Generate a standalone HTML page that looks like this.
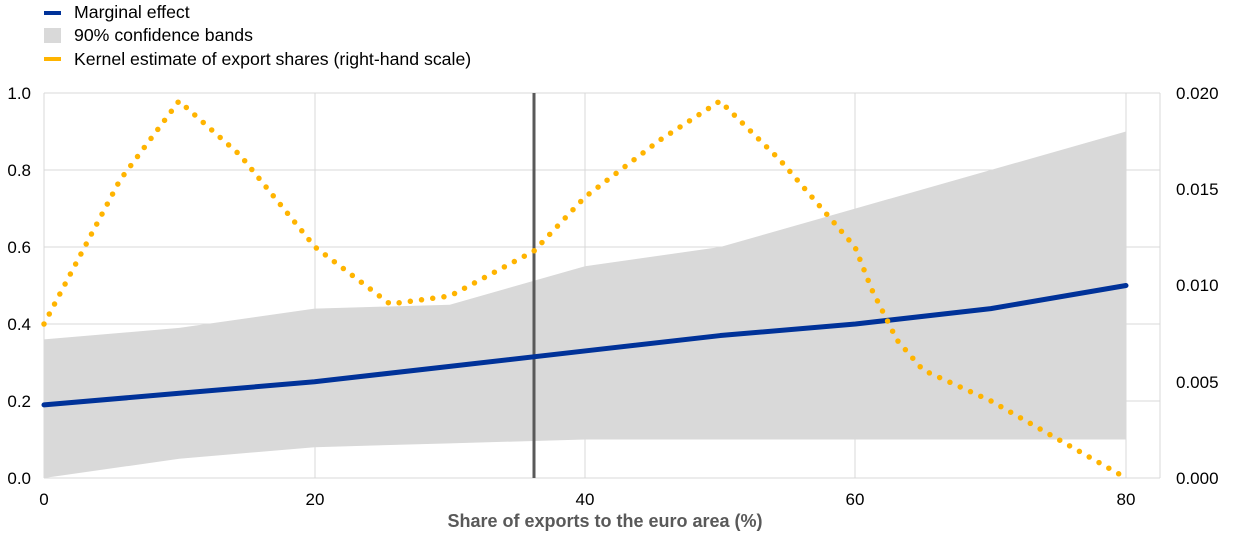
<!DOCTYPE html>
<html><head><meta charset="utf-8"><style>
html,body{margin:0;padding:0;background:#fff;}
svg{display:block;font-family:"Liberation Sans",Arial,sans-serif;}
</style></head><body>
<svg width="1240" height="535" viewBox="0 0 1240 535">
<rect x="44" y="11" width="17" height="4" fill="#003299"/>
<text x="74" y="18" font-size="17.7" fill="#000">Marginal effect</text>
<rect x="44" y="28" width="17" height="15" fill="#d9d9d9"/>
<text x="74" y="41" font-size="17.7" fill="#000">90% confidence bands</text>
<rect x="44" y="57" width="17" height="4" fill="#ffb400"/>
<text x="74" y="65" font-size="17.7" fill="#000">Kernel estimate of export shares (right-hand scale)</text>
<g stroke="#d9d9d9" stroke-width="1">
<line x1="44" y1="93" x2="1160" y2="93"/>
<line x1="44" y1="170" x2="1160" y2="170"/>
<line x1="44" y1="247" x2="1160" y2="247"/>
<line x1="44" y1="324" x2="1160" y2="324"/>
<line x1="44" y1="401" x2="1160" y2="401"/>
<line x1="44" y1="478" x2="1160" y2="478"/>
<line x1="44" y1="93" x2="44" y2="478"/>
<line x1="315" y1="93" x2="315" y2="478"/>
<line x1="585" y1="93" x2="585" y2="478"/>
<line x1="855" y1="93" x2="855" y2="478"/>
<line x1="1126" y1="93" x2="1126" y2="478"/>
<line x1="1160" y1="93" x2="1160" y2="478"/>
</g>
<polygon fill="#d9d9d9" points="44,339.4 179.3,327.9 314.5,308.6 449.8,304.75 585,266.25 720.3,247 855.5,208.5 990.8,170 1126,131.5 1126,439.5 990.8,439.5 855.5,439.5 720.3,439.5 585,439.5 449.8,443.35 314.5,447.2 179.3,458.75 44,478"/>
<line x1="534" y1="93" x2="534" y2="478" stroke="#595959" stroke-width="3"/>
<polyline fill="none" stroke="#003299" stroke-width="5" stroke-linecap="round" stroke-linejoin="round" points="44,404.85 179.3,393.3 314.5,381.75 449.8,366.35 585,350.95 720.3,335.55 855.5,324 990.8,308.6 1126,285.5"/>
<polyline fill="none" stroke="#ffb400" stroke-width="5.5" stroke-linecap="round" stroke-dasharray="0 11.3" points="44,324 120,180 179,101 240,155 315,247 390,304 450,296 534,251 585,197 660,140 720,101 780,160 855,247 872,290 897,340 923,370 991,401 1126,478"/>
<g font-size="17" fill="#000" text-anchor="end">
<text x="31" y="99">1.0</text>
<text x="31" y="176">0.8</text>
<text x="31" y="253">0.6</text>
<text x="31" y="330">0.4</text>
<text x="31" y="407">0.2</text>
<text x="31" y="484">0.0</text>
</g>
<g font-size="17" fill="#000" text-anchor="start">
<text x="1176" y="99">0.020</text>
<text x="1176" y="195">0.015</text>
<text x="1176" y="291">0.010</text>
<text x="1176" y="388">0.005</text>
<text x="1176" y="484">0.000</text>
</g>
<g font-size="17" fill="#000" text-anchor="middle">
<text x="44" y="505">0</text>
<text x="315" y="505">20</text>
<text x="585" y="505">40</text>
<text x="855" y="505">60</text>
<text x="1126" y="505">80</text>
</g>
<text x="605" y="527" font-size="18" font-weight="bold" fill="#595959" text-anchor="middle">Share of exports to the euro area (%)</text>
</svg>
</body></html>
